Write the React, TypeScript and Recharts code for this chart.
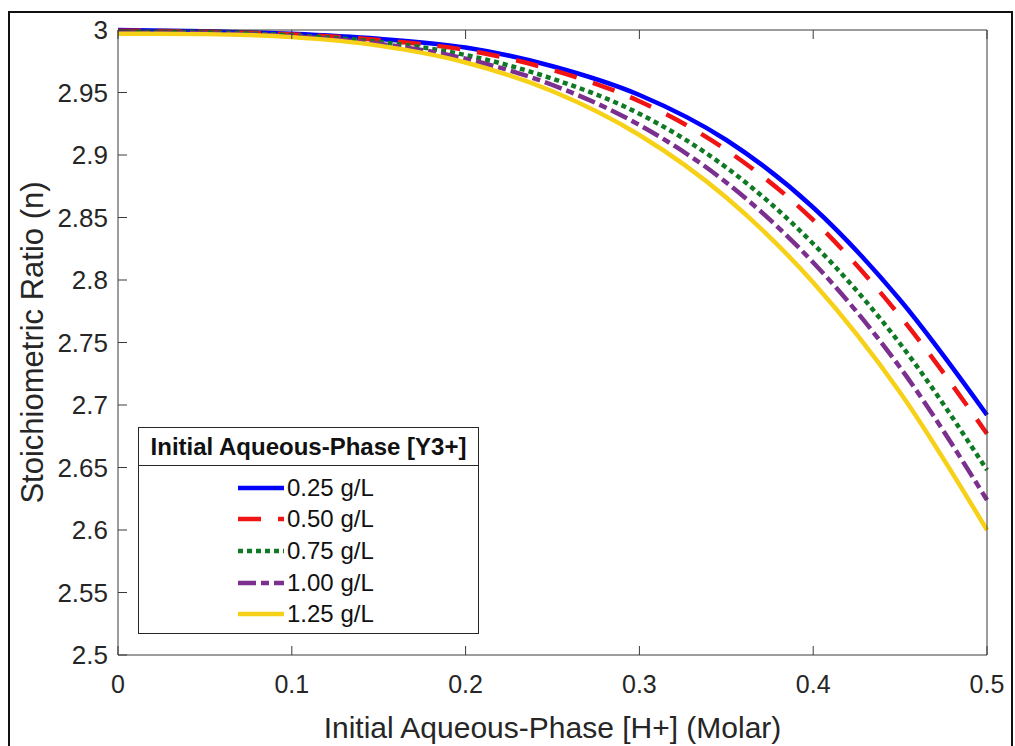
import React from 'react'
import { LineChart, Line, XAxis, YAxis, Legend, Label } from 'recharts'

// [H+] in mol/L
const xValues = [0, 0.05, 0.1, 0.15, 0.2, 0.25, 0.3, 0.35, 0.4, 0.45, 0.5]

// stoichiometric ratio n for each initial Y3+ concentration
const n025 = [3.0, 2.999, 2.997, 2.993, 2.986, 2.971, 2.948, 2.912, 2.858, 2.784, 2.692]
const n050 = [2.9995, 2.9986, 2.9965, 2.992, 2.984, 2.968, 2.943, 2.904, 2.848, 2.771, 2.677]
const n075 = [2.9986, 2.998, 2.9957, 2.9904, 2.98, 2.961, 2.933, 2.89, 2.829, 2.749, 2.648]
const n100 = [2.9978, 2.9973, 2.995, 2.989, 2.977, 2.956, 2.924, 2.878, 2.814, 2.73, 2.624]
const n125 = [2.997, 2.9967, 2.9943, 2.9875, 2.974, 2.951, 2.916, 2.866, 2.798, 2.71, 2.6]

const seriesLabels = ['0.25 g/L', '0.50 g/L', '0.75 g/L', '1.00 g/L', '1.25 g/L']
const xTicks = [0, 0.1, 0.2, 0.3, 0.4, 0.5]
const yTicks = [2.5, 2.55, 2.6, 2.65, 2.7, 2.75, 2.8, 2.85, 2.9, 2.95, 3]

const FONT = '"Liberation Sans", Arial, Helvetica, sans-serif'
const AXIS = '#3a3a3a'
const TEXT = '#262626'

const series = [
  { key: 's1', values: n025, label: seriesLabels[0], color: '#0000ff', dash: undefined },
  { key: 's2', values: n050, label: seriesLabels[1], color: '#f01414', dash: '23 17' },
  { key: 's3', values: n075, label: seriesLabels[2], color: '#0f7a24', dash: '5 4' },
  { key: 's4', values: n100, label: seriesLabels[3], color: '#7b2f8e', dash: '18 5 8 5' },
  { key: 's5', values: n125, label: seriesLabels[4], color: '#f7d117', dash: undefined },
]

const data = xValues.map((x, i) => {
  const row: Record<string, number> = { x }
  series.forEach(s => { row[s.key] = s.values[i] })
  return row
})

const fmt = (v: number) => String(Math.round(v * 100) / 100)

const BottomTick = (props: any) => {
  const { x, y, payload } = props
  return (
    <g>
      <line x1={x} y1={y} x2={x} y2={y - 9} stroke={AXIS} />
      <text x={x} y={y + 29} textAnchor="middle" dominantBaseline="central" fontSize={25} fill={TEXT} fontFamily={FONT}>
        {fmt(payload.value)}
      </text>
    </g>
  )
}

const LeftTick = (props: any) => {
  const { x, y, payload } = props
  return (
    <g>
      <line x1={x} y1={y} x2={x + 9} y2={y} stroke={AXIS} />
      <text x={x - 10} y={y} textAnchor="end" dominantBaseline="central" fontSize={26} fill={TEXT} fontFamily={FONT}>
        {fmt(payload.value)}
      </text>
    </g>
  )
}

const TopTick = (props: any) => <line x1={props.x} y1={props.y} x2={props.x} y2={props.y + 9} stroke={AXIS} />
const RightTick = (props: any) => <line x1={props.x} y1={props.y} x2={props.x - 9} y2={props.y} stroke={AXIS} />

const renderLegend = () => (
  <div style={{ width: 341, height: 207, boxSizing: 'border-box', border: `1px solid ${TEXT}`, background: '#fff', fontFamily: FONT, color: '#111' }}>
    <div style={{ height: 37, lineHeight: '37px', borderBottom: `1px solid ${TEXT}`, textAlign: 'center', fontWeight: 'bold', fontSize: 24 }}>
      Initial Aqueous-Phase [Y3+]
    </div>
    <div style={{ paddingTop: 6 }}>
      {series.map(s => (
        <div key={s.key} style={{ height: 31.6, display: 'flex', alignItems: 'center', paddingLeft: 99 }}>
          <svg width={46} height={10}>
            <line x1={0} y1={5} x2={46} y2={5} stroke={s.color} strokeWidth={4.5} strokeDasharray={s.dash} />
          </svg>
          <span style={{ marginLeft: 3, fontSize: 24 }}>{s.label}</span>
        </div>
      ))}
    </div>
  </div>
)

export default function App() {
  return (
    <div style={{ position: 'absolute', left: 0, top: 0, width: 1015, height: 746, background: '#fff', overflow: 'hidden' }}>
      <LineChart width={1015} height={746} data={data} margin={{ top: 0, right: 0, bottom: 0, left: 0 }}>
        <XAxis
          type="number"
          dataKey="x"
          domain={[0, 0.5]}
          ticks={xTicks}
          interval={0}
          height={91}
          tickSize={0}
          tickMargin={0}
          tickLine={false}
          axisLine={{ stroke: AXIS }}
          tick={<BottomTick />}
        >
          <Label
            content={(p: any) => {
              const vb = p.viewBox || { x: 118, y: 655, width: 869 }
              return (
                <text x={vb.x + vb.width / 2} y={vb.y + 83} textAnchor="middle" fontSize={30} fill={TEXT} fontFamily={FONT}>
                  Initial Aqueous-Phase [H+] (Molar)
                </text>
              )
            }}
          />
        </XAxis>
        <XAxis
          xAxisId="top"
          orientation="top"
          type="number"
          dataKey="x"
          domain={[0, 0.5]}
          ticks={xTicks}
          interval={0}
          height={30}
          tickSize={0}
          tickMargin={0}
          tickLine={false}
          axisLine={{ stroke: AXIS }}
          tick={<TopTick />}
        />
        <YAxis
          type="number"
          domain={[2.5, 3]}
          ticks={yTicks}
          interval={0}
          width={118}
          tickSize={0}
          tickMargin={0}
          tickLine={false}
          axisLine={{ stroke: AXIS }}
          tick={<LeftTick />}
        >
          <Label
            content={(p: any) => {
              const vb = p.viewBox || { y: 30, height: 625 }
              const cy = vb.y + vb.height / 2
              return (
                <text x={43} y={cy} transform={`rotate(-90, 43, ${cy})`} textAnchor="middle" fontSize={31} fill={TEXT} fontFamily={FONT}>
                  Stoichiometric Ratio (n)
                </text>
              )
            }}
          />
        </YAxis>
        <YAxis
          yAxisId="right"
          orientation="right"
          type="number"
          domain={[2.5, 3]}
          ticks={yTicks}
          interval={0}
          width={28}
          tickSize={0}
          tickMargin={0}
          tickLine={false}
          axisLine={{ stroke: AXIS }}
          tick={<RightTick />}
        />
        {series.map(s => (
          <Line
            key={s.key}
            type="monotone"
            dataKey={s.key}
            name={s.label}
            stroke={s.color}
            strokeWidth={4.5}
            strokeDasharray={s.dash}
            dot={false}
            activeDot={false}
            isAnimationActive={false}
          />
        ))}
        <Legend
          layout="horizontal"
          verticalAlign="middle"
          align="center"
          content={renderLegend}
          wrapperStyle={{ position: 'absolute', left: 138, top: 427, width: 341, height: 207, bottom: 'auto' }}
        />
      </LineChart>
      <div
        style={{
          position: 'absolute',
          left: 8,
          top: 11,
          width: 1005,
          height: 760,
          boxSizing: 'border-box',
          border: '2px solid #111',
          pointerEvents: 'none',
        }}
      />
    </div>
  )
}
